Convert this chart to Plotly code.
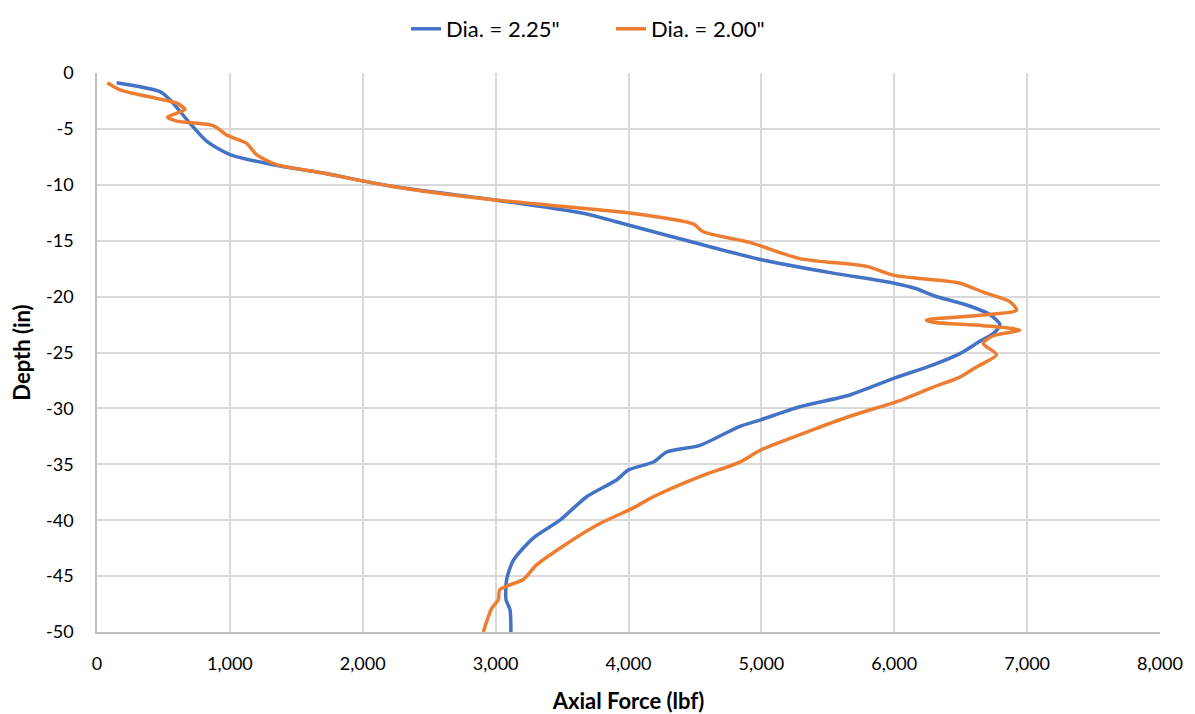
import plotly.graph_objects as go

# Dia. = 2.25"
blue_force = [148, 474, 549, 700, 825, 1000, 1325, 1700, 2205, 2997, 3659, 3998, 4537, 5000, 5540,
              5999, 6168, 6293, 6544, 6719, 6795, 6745, 6644, 6494, 6293, 5999, 5666, 5290, 5000,
              4838, 4537, 4287, 4187, 4000, 3910, 3685, 3484, 3283, 3133, 3083, 3078, 3108, 3115]
blue_depth = [-0.87, -1.67, -2.4, -4.5, -6.1, -7.3, -8.2, -8.95, -10.1, -11.36, -12.55, -13.6, -15.3,
              -16.7, -17.9, -18.8, -19.3, -19.9, -20.75, -21.6, -22.5, -23.3, -24.0, -25.1, -26.1,
              -27.3, -28.8, -29.85, -31.0, -31.6, -33.3, -33.9, -34.8, -35.5, -36.4, -37.9, -40.0,
              -41.6, -43.6, -45.3, -47.1, -48.0, -50.0]

# Dia. = 2.00"
orange_force = [78, 173, 449, 600, 662, 600, 529, 600, 875, 976, 1126, 1201, 1352, 1700, 2205, 2997,
                3998, 4487, 4562, 4913, 5290, 5791, 5999, 6494, 6669, 6870, 6920, 6669, 6242, 6293,
                6669, 6945, 6745, 6669, 6770, 6619, 6494, 6293, 6042, 5666, 5390, 4999, 4838, 4537,
                4187, 4036, 3785, 3535, 3308, 3208, 3032, 3020, 2970, 2907]
orange_depth = [-0.87, -1.5, -2.27, -2.7, -3.25, -3.6, -3.96, -4.3, -4.7, -5.55, -6.3, -7.3, -8.2,
                -8.95, -10.1, -11.36, -12.5, -13.5, -14.2, -15.15, -16.6, -17.3, -18.1, -18.8, -19.6,
                -20.45, -21.2, -21.65, -22.1, -22.3, -22.6, -23.0, -23.5, -24.2, -25.2, -26.3, -27.2,
                -28.1, -29.3, -30.7, -31.9, -33.7, -34.8, -36.1, -37.9, -38.9, -40.3, -42.1, -44.0,
                -45.3, -46.2, -47.1, -47.9, -50.0]

series_names = ['Dia. = 2.25"', 'Dia. = 2.00"']
x_ticks = [0, 1000, 2000, 3000, 4000, 5000, 6000, 7000, 8000]
x_tick_labels = ["0", "1,000", "2,000", "3,000", "4,000", "5,000", "6,000", "7,000", "8,000"]
y_ticks = [0, -5, -10, -15, -20, -25, -30, -35, -40, -45, -50]
y_tick_labels = ["0", "-5", "-10", "-15", "-20", "-25", "-30", "-35", "-40", "-45", "-50"]

FONT = "Lato"

fig = go.Figure()
fig.add_trace(go.Scatter(x=blue_force, y=blue_depth, mode="lines", name=series_names[0],
                         line=dict(color="#4472C4", width=3.5, shape="spline", smoothing=0.7)))
fig.add_trace(go.Scatter(x=orange_force, y=orange_depth, mode="lines", name=series_names[1],
                         line=dict(color="#ED7D31", width=3.5, shape="spline", smoothing=0.7)))

# page body has an 8px margin, so the figure is sized/offset to compensate
fig.update_layout(
    width=1187, height=706,
    paper_bgcolor="white", plot_bgcolor="white",
    margin=dict(l=89, r=35, t=65, b=82, autoexpand=False),
    font=dict(family=FONT, size=18, color="#000000"),
    legend=dict(orientation="h", x=0.508, xanchor="center", xref="container",
                y=1.0, yanchor="top", yref="container",
                entrywidth=160, entrywidthmode="pixels",
                font=dict(size=22, family=FONT), tracegroupgap=0),
    showlegend=True,
)

fig.update_xaxes(range=[0, 8000], tickvals=x_ticks, ticktext=x_tick_labels, showgrid=True,
                 gridcolor="#D9D9D9", gridwidth=1.5, zeroline=False, showline=True,
                 linecolor="#BFBFBF", linewidth=1.5, ticks="", automargin=False,
                 ticklabelstandoff=15, tickangle=0,
                 title=dict(text="<b>Axial Force (lbf)</b>", font=dict(size=22, family=FONT), standoff=25),
                 tickfont=dict(size=18, family=FONT))
fig.update_yaxes(range=[-50, 0], tickvals=y_ticks, ticktext=y_tick_labels, showgrid=True,
                 gridcolor="#D9D9D9", gridwidth=1.5, zeroline=False, showline=True,
                 linecolor="#BFBFBF", linewidth=1.5, ticks="", automargin=False,
                 ticklabelstandoff=18,
                 title=dict(text="<b>Depth (in)</b>", font=dict(size=22, family=FONT), standoff=12),
                 tickfont=dict(size=18, family=FONT))

fig.write_html("out.html")
